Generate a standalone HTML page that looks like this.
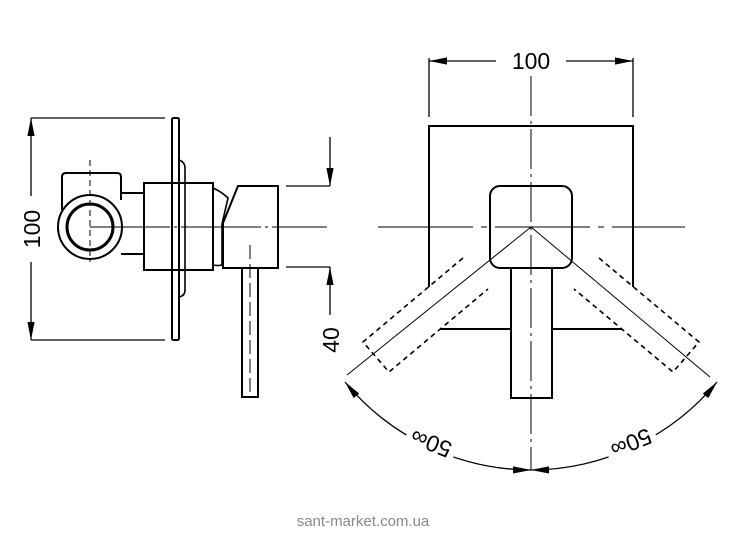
<!DOCTYPE html>
<html><head><meta charset="utf-8"><style>
html,body{margin:0;padding:0;background:#fff;width:751px;height:533px;overflow:hidden}
svg{display:block}
text{font-family:"Liberation Sans",sans-serif}
</style></head><body>
<svg width="751" height="533" viewBox="0 0 751 533" xmlns="http://www.w3.org/2000/svg">
<defs>
<marker id="ar" viewBox="0 0 20 8" refX="20" refY="4" markerWidth="18" markerHeight="7.2" markerUnits="userSpaceOnUse" orient="auto"><path d="M0,0 L20,4 L0,8 z" fill="#000"/></marker>
<marker id="as" viewBox="0 0 20 8" refX="0" refY="4" markerWidth="18" markerHeight="7.2" markerUnits="userSpaceOnUse" orient="auto"><path d="M20,0 L0,4 L20,8 z" fill="#000"/></marker>
</defs>
<g fill="none" stroke="#000" stroke-width="1.3">
<line x1="31" y1="118" x2="165" y2="118"/>
<line x1="31" y1="340" x2="165" y2="340"/>
<line x1="31" y1="196" x2="31" y2="118" marker-end="url(#ar)"/>
<line x1="31" y1="262" x2="31" y2="340" marker-end="url(#ar)"/>
<rect x="172" y="118" width="7" height="222" rx="1.5" stroke-width="2"/>
<path d="M179,160 Q185,162 185,168 L185,290 Q185,296 179,297" stroke-width="1.6"/>
<rect x="144" y="183" width="69" height="87" stroke-width="2"/>
<path d="M213,188 Q222,192 228,198 L222,224 L222,265 Q218,266 213,265" stroke-width="1.6"/>
<path d="M238,186 L278,186 L278,268 L223,268 L223,223 Z" stroke-width="2"/>
<rect x="242" y="268" width="16" height="129" stroke-width="2"/>
<line x1="250" y1="245" x2="250" y2="397" stroke-dasharray="14,5" stroke-width="1"/>
<path d="M62,210 L62,177 Q62,173 66,173 L117,173 Q121,173 121,177 L121,200" stroke-width="2"/>
<path d="M121,193 L144,193 M121,254 L144,254" stroke-width="2"/>
<circle cx="90" cy="227" r="32" stroke-width="2" fill="#fff"/>
<circle cx="90" cy="227" r="23" stroke-width="3"/>
<line x1="90" y1="160" x2="90" y2="262" stroke-dasharray="6,4" stroke-width="1"/>
<line x1="90" y1="227" x2="327" y2="227" stroke-width="1" stroke-dasharray="80,4,3,4"/>
<line x1="286" y1="186" x2="330" y2="186"/>
<line x1="286" y1="267" x2="330" y2="267"/>
<line x1="330" y1="137" x2="330" y2="186" marker-end="url(#ar)"/>
<line x1="330" y1="315" x2="330" y2="267" marker-end="url(#ar)"/>

<line x1="429" y1="58" x2="429" y2="117"/>
<line x1="633" y1="58" x2="633" y2="117"/>
<line x1="496" y1="61" x2="429" y2="61" marker-end="url(#ar)"/>
<line x1="566" y1="61" x2="633" y2="61" marker-end="url(#ar)"/>
<path d="M429,287 L429,126 L633,126 L633,287" stroke-width="2"/>
<path d="M440,329 L511,329 M552,329 L622,329" stroke-width="2"/>
<rect x="490" y="186" width="82" height="82" rx="10" stroke-width="2"/>
<rect x="511" y="268" width="41" height="130" stroke-width="2"/>
<line x1="531" y1="76" x2="531" y2="470" stroke-width="1" stroke-dasharray="40,5,3,5"/>
<line x1="378" y1="227" x2="685" y2="227" stroke-width="1" stroke-dasharray="95,8,6,8"/>
<line x1="531" y1="227" x2="347" y2="375" stroke-width="1"/>
<line x1="531" y1="227" x2="710" y2="377" stroke-width="1"/>
<g stroke-dasharray="5,4" stroke-width="1.6">
<path d="M463,258 L363,342 L389,372 L488,289"/>
<path d="M599,258 L699,342 L673,372 L574,289"/>
</g>
<path d="M531,470 A243,243 0 0 1 345,382" marker-start="url(#as)" marker-end="url(#ar)"/>
<path d="M531,470 A243,243 0 0 0 717,382" marker-start="url(#as)" marker-end="url(#ar)"/>
</g>
<g font-size="23" fill="#000">
<text x="531" y="69" text-anchor="middle">100</text>
<text transform="translate(40,229) rotate(-90)" text-anchor="middle">100</text>
<text transform="translate(339,340) rotate(-90)" text-anchor="middle">40</text>
<rect x="405" y="430" width="52" height="26" fill="#fff" transform="rotate(22 431 443)"/>
<rect x="605" y="430" width="52" height="26" fill="#fff" transform="rotate(-22 631 443)"/>
<text transform="translate(431,443) rotate(202)" text-anchor="middle" dominant-baseline="central">50∞</text>
<text transform="translate(631,443) rotate(158)" text-anchor="middle" dominant-baseline="central">50∞</text>
</g>
<text x="363" y="526" text-anchor="middle" font-size="15" fill="#888">sant-market.com.ua</text>
</svg>
</body></html>
